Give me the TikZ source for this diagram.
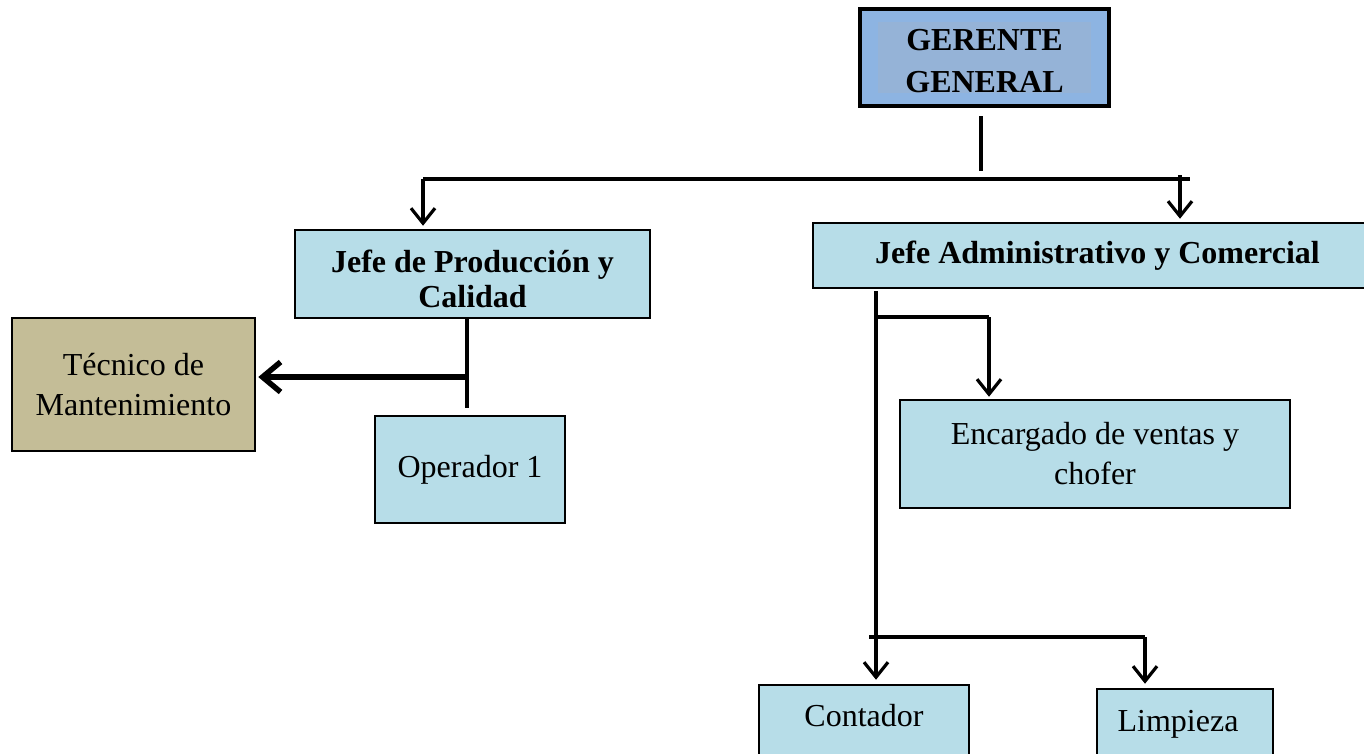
\documentclass[tikz,border=0pt]{standalone}
\usepackage{fontspec}
\setmainfont{Liberation Serif}
\usetikzlibrary{arrows.meta,calc}
\definecolor{ggblue}{HTML}{8DB4E2}
\definecolor{gginner}{HTML}{95B3D7}
\definecolor{lblue}{HTML}{B7DDE8}
\definecolor{tan}{HTML}{C4BD97}
\begin{document}
\begin{tikzpicture}[x=1pt,y=-1pt,
  box/.style={draw=black, line width=2.5pt, fill=lblue, inner sep=0pt, align=center,
    font=\fontsize{32}{40}\selectfont},
  bbox/.style={box, font=\bfseries\fontsize{32}{35}\selectfont},
  conn/.style={line width=3.2pt},
  arr/.style={conn, -{Straight Barb[length=15pt,width=24pt]}},
  tarr/.style={line width=5.5pt, -{Straight Barb[length=18pt,width=30pt]}}
]
\useasboundingbox (0,0) rectangle (1364,753);
\clip (0,0) rectangle (1364,753);

% nodes
\node[box, line width=4.5pt, fill=ggblue, minimum width=249pt, minimum height=97pt] (gg) at (984.5,57.5) {};
\fill[gginner] (878,22) rectangle (1091,93);
\node[inner sep=0pt, align=center, font=\bfseries\fontsize{32}{42}\selectfont] (ggt) at (984.5,61) {GERENTE\\GENERAL};

\node[bbox, minimum width=355pt, minimum height=88pt] (jp) at (472.5,274) {\raisebox{-15pt}[0pt][0pt]{\begin{tabular}{@{}c@{}}Jefe de Producción y\\Calidad\end{tabular}}};
\node[bbox, minimum width=557pt, minimum height=65pt] (ja) at (1091.5,255.5) {\hspace*{12pt}Jefe Administrativo y Comercial};
\node[box, fill=tan, minimum width=243pt, minimum height=133pt] (tec) at (133.5,384.5) {Técnico de\\Mantenimiento};
\node[box, minimum width=190pt, minimum height=107pt] (op) at (470,469.5) {Operador 1};
\node[box, minimum width=390pt, minimum height=108pt] (enc) at (1095,454) {Encargado de ventas y\\chofer};
\node[box, text height=10pt, text depth=17pt, minimum width=210pt, minimum height=90pt] (cont) at (864,730) {Contador};
\node[box, text height=10pt, text depth=15pt, minimum width=176pt, minimum height=90pt] (limp) at (1185,734) {\hspace*{-14pt}Limpieza};

% connectors: gerente
\coordinate (g1) at (981,116);
\coordinate (g2) at (981,171);
\coordinate (hl) at (423,179);
\coordinate (hr) at (1190,179);
\coordinate (hra) at (1180,175);
\draw[conn] (g1) -- (g2);
\draw[conn] (hl) -- (hr);
\draw[arr, shorten >=3pt] (hl) -- (hl |- jp.north);
\draw[arr, shorten >=3pt] (hra) -- (hra |- ja.north);

% produccion
\coordinate (p1) at (467,408);
\coordinate (p2) at (467,377);
\draw[conn] (jp.south -| p1) -- (p1);
\draw[tarr, shorten >=2pt] (p2) -- (p2 -| tec.east);

% administrativo
\coordinate (a2) at (876,317);
\coordinate (a3) at (989,317);
\draw[arr, shorten >=4pt] ($(ja.south -| a2)+(0,2)$) -- (a2 |- cont.north);
\draw[conn] (a2) -- (a3);
\draw[arr, shorten >=2pt] (a3) -- (a3 |- enc.north);

\coordinate (b1) at (869,637);
\coordinate (b2) at (1145,637);
\draw[conn] (b1) -- (b2);
\draw[arr, shorten >=4pt] (b2) -- (b2 |- limp.north);
\end{tikzpicture}
\end{document}
